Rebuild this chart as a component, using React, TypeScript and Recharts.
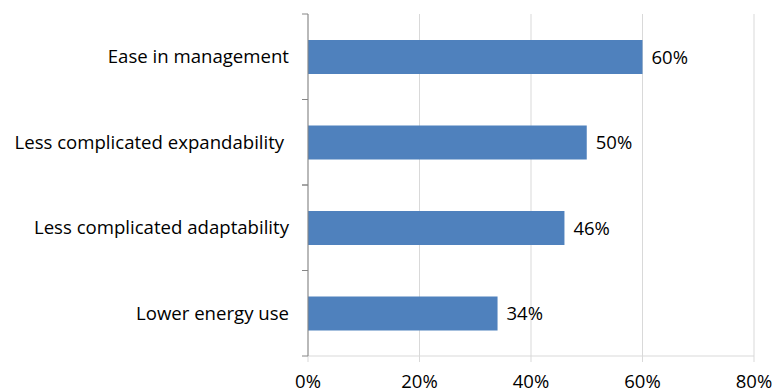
import React from 'react';
import { BarChart, Bar, XAxis, YAxis, CartesianGrid, LabelList } from 'recharts';

const categories = [
  'Ease in management',
  'Less complicated expandability ',
  'Less complicated adaptability',
  'Lower energy use',
];
const shares = [60, 50, 46, 34];
const xTicks = [0, 20, 40, 60, 80];

const chartData = categories.map((name, i) => ({ name, value: shares[i] }));

const FONT = '"Open Sans", "Noto Sans", sans-serif';
const MARGIN = { top: 14, right: 19, bottom: 0, left: 0 };
const Y_AXIS_WIDTH = 308;
const HALF_BAND = (356 - 14) / categories.length / 2;

// category label plus the separator ticks Excel draws between categories
const CategoryTick = (props: any) => {
  const { y, payload } = props;
  const axisX = MARGIN.left + Y_AXIS_WIDTH;
  return (
    <g>
      <line x1={axisX - 6} x2={axisX} y1={y - HALF_BAND} y2={y - HALF_BAND} stroke="#868686" />
      <line x1={axisX - 6} x2={axisX} y1={y + HALF_BAND} y2={y + HALF_BAND} stroke="#868686" />
      <text
        x={axisX - 19}
        y={y}
        dy="0.35em"
        textAnchor="end"
        fill="#000"
        fontSize={18.6}
        fontFamily={FONT}
        style={{ whiteSpace: 'pre' }}
      >
        {payload.value}
      </text>
    </g>
  );
};

const App: React.FC = () => {
  return (
    <div style={{ position: 'absolute', left: 0, top: 0, background: '#fff' }}>
      <BarChart
        width={773}
        height={392}
        data={chartData}
        layout="vertical"
        margin={MARGIN}
        barSize={34}
      >
        <CartesianGrid horizontal={false} stroke="#d9d9d9" />
        <XAxis
          type="number"
          domain={[0, 80]}
          ticks={xTicks}
          tickFormatter={(v) => `${v}%`}
          height={36}
          axisLine={{ stroke: '#d9d9d9' }}
          tickLine={{ stroke: '#d9d9d9' }}
          tickSize={6}
          tickMargin={13}
          tick={{ fill: '#000', fontSize: 18.5, fontFamily: FONT }}
          interval={0}
        />
        <YAxis
          type="category"
          dataKey="name"
          width={Y_AXIS_WIDTH}
          axisLine={{ stroke: '#868686' }}
          tickLine={false}
          tick={<CategoryTick />}
          interval={0}
        />
        <Bar dataKey="value" fill="#4f81bd" isAnimationActive={false}>
          <LabelList
            dataKey="value"
            position="right"
            offset={9}
            formatter={(v: any) => `${v}%`}
            style={{ fill: '#000', fontSize: 18.5, fontFamily: FONT }}
          />
        </Bar>
      </BarChart>
    </div>
  );
};

export default App;
